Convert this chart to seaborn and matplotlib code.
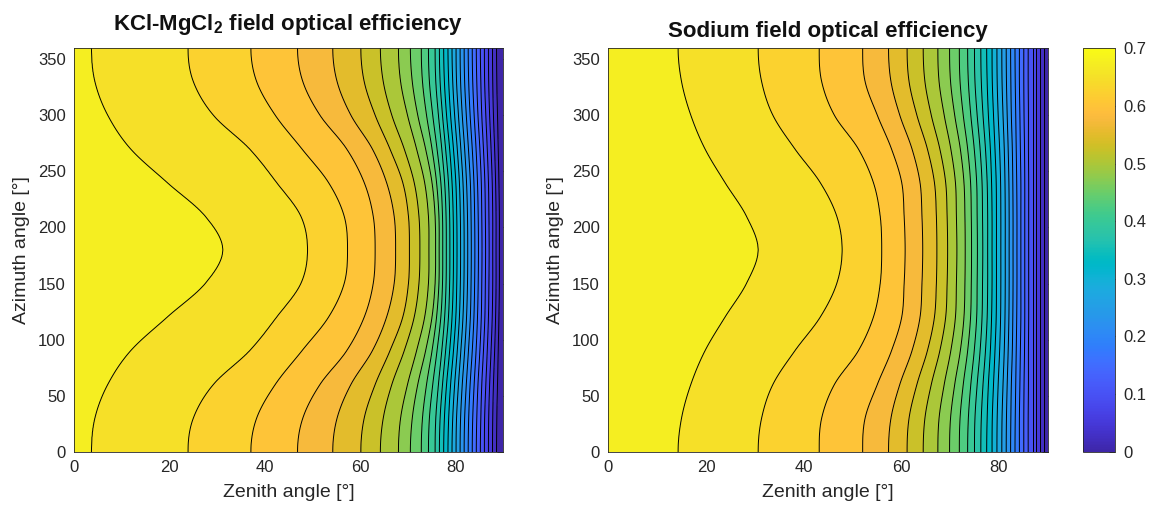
import numpy as np
import matplotlib
matplotlib.use("Agg")
import matplotlib.pyplot as plt
import seaborn as sns
from matplotlib.colors import Normalize
from matplotlib.cm import ScalarMappable

# ---------------- data ----------------
# contour levels drawn as lines (efficiency), from the centre outward
line_levels = [0.675, 0.650, 0.625, 0.600, 0.575, 0.550, 0.525, 0.500, 0.475,
               0.450, 0.425, 0.400, 0.375, 0.350, 0.325, 0.300, 0.275, 0.250,
               0.225, 0.200, 0.175, 0.150, 0.125, 0.100, 0.075, 0.050, 0.025]
peak_eff = 0.69     # efficiency at zenith 0
edge_eff = 0.0      # efficiency at zenith 90
# azimuth rows that were read (0..180); 180..360 mirrors them
azimuth_rows = [0, 30, 60, 90, 120, 150, 180]

# zenith angle [deg] where each contour line crosses the given azimuth -- KCl-MgCl2 field
kcl_az0 = [3.6, 23.9, 37.1, 46.9, 54.3, 60.2, 64.3, 68.1, 70.6, 72.9, 74.4, 75.8, 76.7, 77.6,
           78.5, 79.35, 80.2, 81.05, 81.9, 82.75, 83.6, 84.45, 85.3, 86.15, 87.0, 87.85, 88.7]
kcl_az30 = [4.3, 25.0, 38.3, 48.0, 55.2, 60.9, 64.9, 68.55, 71.0, 73.15, 74.6, 75.95, 76.85, 77.75,
            78.65, 79.5, 80.3, 81.15, 82.0, 82.85, 83.7, 84.55, 85.4, 86.2, 87.05, 87.9, 88.75]
kcl_az60 = [7.0, 29.2, 42.2, 51.6, 58.1, 63.2, 66.7, 70.0, 72.15, 74.0, 75.3, 76.5, 77.35, 78.2,
            79.05, 79.9, 80.7, 81.5, 82.35, 83.15, 84.0, 84.8, 85.6, 86.45, 87.25, 88.05, 88.9]
kcl_az90 = [11.8, 36.8, 47.8, 57.2, 62.6, 66.3, 69.3, 71.9, 73.8, 75.15, 76.2, 77.2, 78.0, 78.85,
            79.65, 80.45, 81.2, 82.0, 82.8, 83.6, 84.4, 85.2, 85.95, 86.75, 87.55, 88.3, 89.05]
kcl_az120 = [19.5, 42.5, 53.4, 60.9, 65.6, 69.0, 71.4, 73.6, 75.15, 76.1, 77.0, 77.8, 78.6, 79.35,
             80.15, 80.9, 81.65, 82.4, 83.2, 83.95, 84.7, 85.5, 86.25, 87.0, 87.8, 88.5, 89.2]
kcl_az150 = [27.5, 47.6, 56.7, 62.8, 67.2, 70.2, 72.4, 74.4, 75.8, 76.6, 77.35, 78.1, 78.85, 79.6,
             80.35, 81.1, 81.85, 82.6, 83.35, 84.1, 84.85, 85.6, 86.35, 87.1, 87.9, 88.6, 89.3]
kcl_az180 = [31.2, 49.0, 57.4, 63.2, 67.5, 70.4, 72.6, 74.5, 75.9, 76.65, 77.4, 78.15, 78.9, 79.65,
             80.4, 81.15, 81.9, 82.65, 83.4, 84.15, 84.9, 85.65, 86.4, 87.15, 87.9, 88.6, 89.3]

# same for the Sodium field
na_az0 = [14.3, 30.7, 43.2, 52.1, 57.4, 61.2, 64.5, 67.5, 69.9, 71.9, 73.6, 75.0, 76.3, 77.5,
          78.6, 79.6, 80.6, 81.5, 82.4, 83.3, 84.2, 85.1, 86.0, 86.9, 87.7, 88.5, 89.3]
na_az30 = [15.0, 31.4, 43.7, 52.6, 57.9, 61.6, 64.85, 67.75, 70.1, 72.05, 73.75, 75.1, 76.4, 77.6,
           78.65, 79.65, 80.65, 81.55, 82.45, 83.35, 84.2, 85.1, 86.0, 86.9, 87.7, 88.5, 89.3]
na_az60 = [16.9, 33.7, 46.3, 55.1, 59.7, 63.2, 66.15, 68.8, 70.95, 72.7, 74.25, 75.55, 76.75, 77.85,
           78.9, 79.85, 80.85, 81.7, 82.55, 83.45, 84.3, 85.15, 86.05, 86.9, 87.7, 88.5, 89.3]
na_az90 = [19.8, 38.2, 51.2, 58.0, 62.2, 65.35, 67.9, 70.15, 72.1, 73.6, 74.95, 76.15, 77.25, 78.25,
           79.2, 80.15, 81.1, 81.9, 82.75, 83.55, 84.4, 85.25, 86.05, 86.9, 87.7, 88.5, 89.3]
na_az120 = [23.9, 43.4, 54.3, 60.1, 63.85, 66.8, 69.1, 71.1, 72.85, 74.2, 75.45, 76.55, 77.6, 78.5,
            79.45, 80.35, 81.25, 82.05, 82.85, 83.65, 84.5, 85.3, 86.1, 86.9, 87.7, 88.5, 89.3]
na_az150 = [28.3, 46.8, 55.7, 60.6, 64.25, 67.2, 69.4, 71.3, 73.05, 74.35, 75.55, 76.65, 77.7, 78.6,
            79.5, 80.4, 81.3, 82.1, 82.9, 83.7, 84.5, 85.3, 86.1, 86.9, 87.7, 88.5, 89.3]
na_az180 = [30.7, 47.9, 56.0, 60.8, 64.4, 67.3, 69.5, 71.4, 73.1, 74.4, 75.6, 76.7, 77.7, 78.6,
            79.5, 80.4, 81.3, 82.1, 82.9, 83.7, 84.5, 85.3, 86.1, 86.9, 87.7, 88.5, 89.3]

titles = [r"KCl-MgCl$_\mathbf{2}$ field optical efficiency", "Sodium field optical efficiency"]
xticks = [0, 20, 40, 60, 80]
yticks = [0, 50, 100, 150, 200, 250, 300, 350]
cbar_ticks = [0, 0.1, 0.2, 0.3, 0.4, 0.5, 0.6, 0.7]
cbar_labels = ["0", "0.1", "0.2", "0.3", "0.4", "0.5", "0.6", "0.7"]

# ---------------- style: MATLAB parula (R2017a+) ----------------
parula = [
    (0.2422, 0.1504, 0.6603), (0.2504, 0.1650, 0.7076), (0.2578, 0.1818, 0.7511), (0.2647, 0.1978, 0.7952),
    (0.2706, 0.2147, 0.8364), (0.2751, 0.2342, 0.8710), (0.2783, 0.2559, 0.8991), (0.2803, 0.2782, 0.9221),
    (0.2813, 0.3006, 0.9414), (0.2810, 0.3228, 0.9579), (0.2795, 0.3447, 0.9717), (0.2760, 0.3667, 0.9829),
    (0.2699, 0.3892, 0.9906), (0.2602, 0.4123, 0.9952), (0.2440, 0.4358, 0.9988), (0.2206, 0.4603, 0.9973),
    (0.1963, 0.4847, 0.9892), (0.1834, 0.5074, 0.9798), (0.1786, 0.5289, 0.9682), (0.1764, 0.5499, 0.9520),
    (0.1687, 0.5703, 0.9359), (0.1540, 0.5902, 0.9218), (0.1460, 0.6091, 0.9079), (0.1380, 0.6276, 0.8973),
    (0.1248, 0.6459, 0.8883), (0.1113, 0.6635, 0.8763), (0.0952, 0.6798, 0.8598), (0.0689, 0.6948, 0.8394),
    (0.0297, 0.7082, 0.8163), (0.0036, 0.7203, 0.7917), (0.0067, 0.7312, 0.7660), (0.0433, 0.7411, 0.7394),
    (0.0964, 0.7500, 0.7120), (0.1408, 0.7584, 0.6842), (0.1717, 0.7670, 0.6554), (0.1938, 0.7758, 0.6251),
    (0.2161, 0.7843, 0.5923), (0.2470, 0.7918, 0.5567), (0.2906, 0.7973, 0.5188), (0.3406, 0.8008, 0.4789),
    (0.3909, 0.8029, 0.4354), (0.4456, 0.8024, 0.3909), (0.5044, 0.7993, 0.3480), (0.5616, 0.7942, 0.3045),
    (0.6174, 0.7876, 0.2612), (0.6720, 0.7793, 0.2227), (0.7242, 0.7698, 0.1910), (0.7738, 0.7598, 0.1646),
    (0.8203, 0.7498, 0.1535), (0.8634, 0.7406, 0.1596), (0.9035, 0.7330, 0.1774), (0.9393, 0.7288, 0.2100),
    (0.9728, 0.7298, 0.2394), (0.9956, 0.7434, 0.2371), (0.9970, 0.7659, 0.2199), (0.9952, 0.7893, 0.2028),
    (0.9892, 0.8136, 0.1885), (0.9786, 0.8386, 0.1766), (0.9676, 0.8639, 0.1643), (0.9610, 0.8890, 0.1537),
    (0.9597, 0.9135, 0.1423), (0.9628, 0.9373, 0.1265), (0.9691, 0.9606, 0.1064), (0.9769, 0.9839, 0.0805)]

sns.set_style("white")
plt.rcParams["font.family"] = ["Liberation Sans", "DejaVu Sans"]
plt.rcParams["mathtext.fontset"] = "custom"
plt.rcParams["mathtext.rm"] = "Liberation Sans"
plt.rcParams["mathtext.bf"] = "Liberation Sans:bold"

cmap = sns.blend_palette(parula, n_colors=256, as_cmap=True)
norm = Normalize(vmin=0.0, vmax=0.7)
axcol = "#262626"

fill_levels = [edge_eff] + line_levels[::-1] + [0.7]
fill_colors = [cmap(norm(v)) for v in fill_levels[:-1]]

zen_grid = np.linspace(0, 90, 901)
az_grid = np.linspace(0, 360, 721)
az_fold = 180 - np.abs(az_grid - 180)
step = azimuth_rows[1] - azimuth_rows[0]


def smooth_positions(rows):
    """Smooth curve (Catmull-Rom) through the read contour positions, per level."""
    rows = np.array(rows)
    ext = np.vstack([rows[1], rows, rows[-2]])          # mirror-symmetric ends (az 0 and 180)
    s = az_fold / step
    i = np.clip(np.floor(s).astype(int), 0, len(azimuth_rows) - 2)
    t = (s - i)[:, None]
    P0, P1, P2, P3 = ext[i], ext[i + 1], ext[i + 2], ext[i + 3]
    out = 0.5 * (2 * P1 + (P2 - P0) * t + (2 * P0 - 5 * P1 + 4 * P2 - P3) * t ** 2
                 + (3 * P1 - P0 - 3 * P2 + P3) * t ** 3)
    out = np.maximum.accumulate(out + 1e-4 * np.arange(out.shape[1]), axis=1)
    return np.clip(out, 0.01, 89.95)


def build_field(rows):
    cross = smooth_positions(rows)
    return np.array([np.interp(zen_grid, np.r_[0.0, c, 90.0],
                               [peak_eff] + line_levels + [edge_eff]) for c in cross])


fields = [build_field([kcl_az0, kcl_az30, kcl_az60, kcl_az90, kcl_az120, kcl_az150, kcl_az180]),
          build_field([na_az0, na_az30, na_az60, na_az90, na_az120, na_az150, na_az180])]

W, H = 1151, 513
fig = plt.figure(figsize=(W / 100, H / 100), dpi=100)
ax_boxes = [(74.3, 47.7, 502.7, 452.0), (608.3, 47.7, 1047.7, 452.0)]
title_pads = [12.7, 7.7]
X, Y = np.meshgrid(zen_grid, az_grid)

for k, (x0, y0, x1, y1) in enumerate(ax_boxes):
    ax = fig.add_axes([x0 / W, 1 - y1 / H, (x1 - x0) / W, (y1 - y0) / H])
    ax.contourf(X, Y, fields[k], levels=fill_levels, colors=fill_colors)
    ax.contour(X, Y, fields[k], levels=line_levels[::-1], colors="black", linewidths=0.7)
    ax.set_xlim(0, 90)
    ax.set_ylim(0, 360)
    ax.set_xticks(xticks)
    ax.set_yticks(yticks)
    ax.tick_params(direction="in", length=4, width=0.6, top=True, right=True,
                   labelsize=12, colors=axcol, pad=6)
    for sp in ax.spines.values():
        sp.set_visible(True)
        sp.set_linewidth(0.6)
        sp.set_color(axcol)
    ax.set_xlabel("Zenith angle [°]", fontsize=14, color=axcol, labelpad=6)
    ax.set_ylabel("Azimuth angle [°]", fontsize=14, color=axcol, labelpad=6)
    ax.set_title(titles[k], fontsize=16, fontweight="bold", color="#111111", pad=title_pads[k])

cax = fig.add_axes([1083.3 / W, 1 - 451.7 / H, 31.7 / W, (451.7 - 48.3) / H])
sm = ScalarMappable(norm=norm, cmap=cmap)
cb = fig.colorbar(sm, cax=cax, ticks=cbar_ticks)
cb.ax.set_yticklabels(cbar_labels)
cb.ax.tick_params(direction="in", length=4, width=0.6, labelsize=12, colors=axcol, pad=6)
cb.outline.set_linewidth(0.6)
cb.outline.set_edgecolor(axcol)

fig.savefig("out.png", dpi=100)
